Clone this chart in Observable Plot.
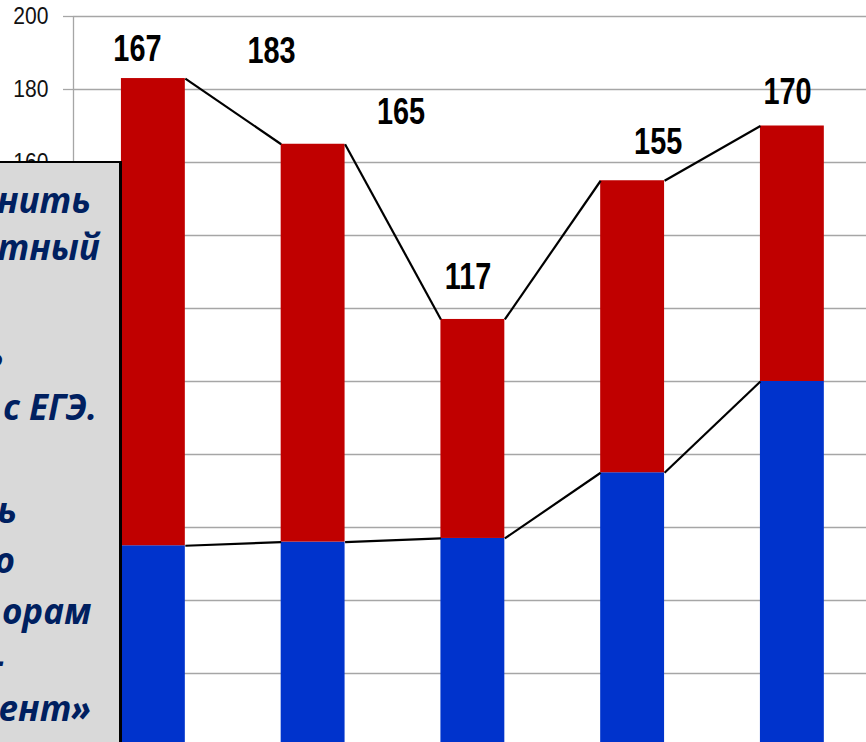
<!DOCTYPE html>
<html><head><meta charset="utf-8">
<script src="https://cdn.jsdelivr.net/npm/d3@7"></script>
<script src="https://cdn.jsdelivr.net/npm/@observablehq/plot@0.6"></script>
<style>
html,body{margin:0;padding:0;background:#fff;overflow:hidden;width:866px;height:742px;}
#chart{position:absolute;left:0;top:0;}
#note{position:absolute;left:-300px;top:161px;width:422px;height:700px;box-sizing:border-box;background:#d9d9d9;border:2px solid #000;border-right-width:3px;overflow:hidden;}
#note div{position:absolute;white-space:nowrap;font-family:"Open Sans",sans-serif;font-weight:700;font-style:italic;font-size:35px;color:#002060;line-height:35px;}
</style></head><body>
<div id="chart"></div>
<div id="note"></div>
<script>
// categories (index only; labels not visible in the cropped reference)
const categories = ["c1","c2","c3","c4","c5"];
const totals = [183, 165, 117, 155, 170];
const lower = [55, 56, 57, 75, 100];
const labelText = ["167","183","165","117","155","170"];
const labelPos = [-0.1, 0.74, 1.55, 1.97, 3.16, 3.97];
const labelVal = [191.1, 190.5, 173.7, 128.5, 165.5, 179.2];
const yTicks = [0,20,40,60,80,100,120,140,160,180,200];

const noteLines = ["нить","тный","ь","с ЕГЭ.","ь","о","орам","-","ент»"];

const half = 0.2;
const bars = categories.map((c,i)=>({i, c, lower: lower[i], total: totals[i]}));
const linkFor = arr => d3.range(arr.length-1).map(i=>({x1:i+half, y1:arr[i], x2:i+1-half, y2:arr[i+1]}));
const labels = labelText.map((t,i)=>({t, x: labelPos[i], y: labelVal[i]}));

const font = '"Liberation Sans",Arial,sans-serif';

const chart = Plot.plot({
  width: 866, height: 742,
  marginLeft: 73, marginTop: 16, marginRight: 0, marginBottom: 0,
  style: {background: "white", overflow: "hidden"},
  x: {domain: [-0.5, 4.5], range: [73, 871.75], axis: null},
  y: {domain: [0, 200], range: [746, 16], axis: null},
  marks: [
    Plot.ruleY(yTicks, {x1: -0.5, x2: 4.5, stroke: "#a6a6a6", strokeWidth: 1.3}),
    Plot.axisY(yTicks, {tickSize: 10, tickPadding: 15, stroke: "#a6a6a6", strokeWidth: 1.3, fill: "#111", fontSize: 24.5, fontFamily: font, tickFormat: d => String(d), className: "ax"}),
    Plot.ruleX([-0.5], {y1: 0, y2: 200, stroke: "#a6a6a6", strokeWidth: 1.3}),
    Plot.rect(bars, {x1: d => d.i - half, x2: d => d.i + half, y1: 0, y2: "lower", fill: "#0033cc"}),
    Plot.rect(bars, {x1: d => d.i - half, x2: d => d.i + half, y1: "lower", y2: "total", fill: "#c00000"}),
    Plot.link(linkFor(totals), {x1: "x1", y1: "y1", x2: "x2", y2: "y2", stroke: "#000", strokeWidth: 2.2}),
    Plot.link(linkFor(lower), {x1: "x1", y1: "y1", x2: "x2", y2: "y2", stroke: "#000", strokeWidth: 2.2}),
    Plot.text(labels, {x: "x", y: "y", text: "t", fontSize: 37, fontWeight: "bold", fontFamily: font, fill: "#000", className: "vl"})
  ]
});
document.getElementById("chart").appendChild(chart);

// emulate a narrow (condensed) typeface by squeezing text horizontally
function squeeze(cls, s) {
  chart.querySelectorAll("g").forEach(g => {
    if (!(g.getAttribute("class") || "").includes(cls)) return;
    g.querySelectorAll("text").forEach(t => {
      const tr = t.getAttribute("transform");
      if (tr) t.setAttribute("transform", tr + ` scale(${s},1)`);
    });
  });
}
squeeze("vl", 0.78);
squeeze("ax", 0.86);

// overlay note box (text box from the slide, cut at the left edge)
const noteRight = [91, 100, 4, 97, 17, 15, 91, 4, 91];
const noteBase = [210, 257, 364, 417, 520, 570, 621, 670, 718];
const note = document.getElementById("note");
noteLines.forEach((t,i)=>{
  const d = document.createElement("div");
  d.textContent = t;
  d.style.right = (119 - noteRight[i]) + "px";
  d.style.top = (noteBase[i] - 163 - 28) + "px";
  note.appendChild(d);
});
</script>
</body></html>
